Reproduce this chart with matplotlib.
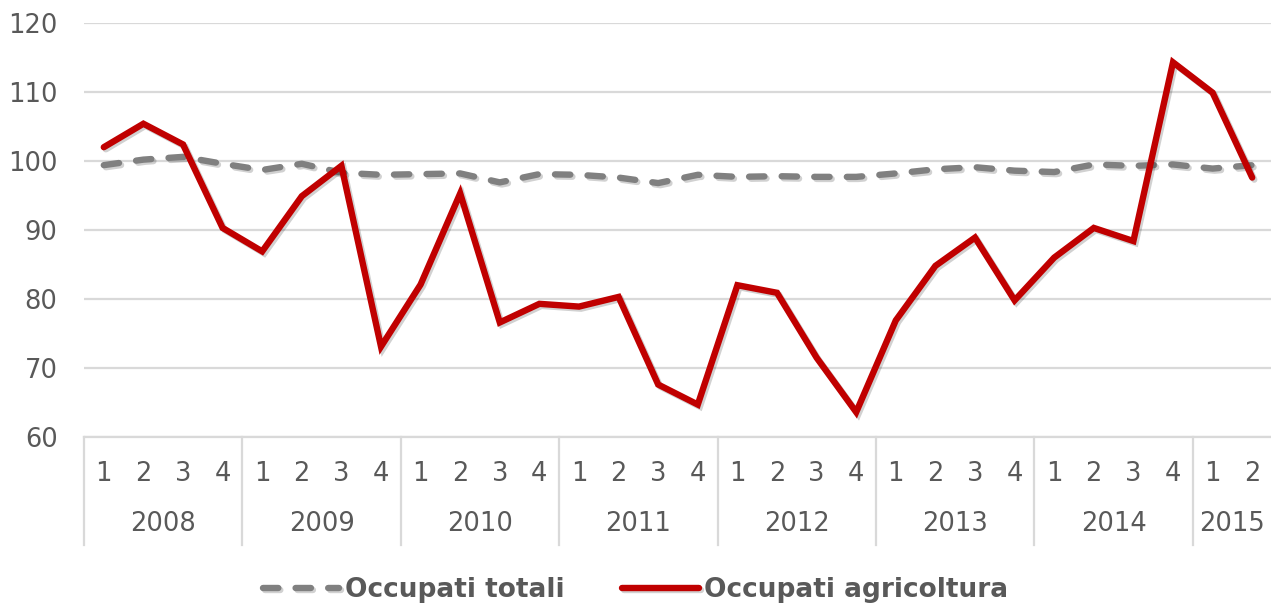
import numpy as np
import matplotlib
matplotlib.use("Agg")
import matplotlib.pyplot as plt
import matplotlib.patheffects as pe

# data (index, quarterly)
years = ["2008", "2009", "2010", "2011", "2012", "2013", "2014", "2015"]
quarters_per_year = [4, 4, 4, 4, 4, 4, 4, 2]
occupati_totali = [99.4, 100.2, 100.6, 99.6, 98.7, 99.6, 98.3, 98.0,
                   98.1, 98.2, 96.9, 98.1, 98.0, 97.6, 96.8, 98.0,
                   97.7, 97.8, 97.7, 97.7, 98.2, 98.8, 99.1, 98.6,
                   98.4, 99.5, 99.3, 99.5, 98.9, 99.4]
occupati_agricoltura = [102.0, 105.4, 102.4, 90.3, 86.9, 94.9, 99.3, 73.1,
                        82.1, 95.3, 76.6, 79.3, 78.9, 80.3, 67.6, 64.7,
                        82.0, 80.9, 71.5, 63.6, 76.9, 84.8, 88.9, 79.8,
                        86.0, 90.3, 88.4, 114.3, 109.9, 97.6]

TXT = "#595959"
GRID = "#d9d9d9"
FS = 18.5

plt.rcParams["font.family"] = ["DejaVu Sans"]

fig = plt.figure(figsize=(12.71, 6.04), dpi=100)
ax = fig.add_axes([84 / 1271, 167 / 604, 1188 / 1271, 414 / 604])

x = np.arange(len(occupati_totali))
shadow = [pe.SimpleLineShadow(offset=(1.5, -1.5), alpha=0.18, shadow_color="black"), pe.Normal()]

ax.plot(x, occupati_totali, color="#808080", lw=4.6, linestyle=(0, (2.4, 2.7)),
        dash_capstyle="round", solid_joinstyle="round", label="Occupati totali",
        path_effects=shadow, zorder=3)
ax.plot(x, occupati_agricoltura, color="#C00000", lw=4.6, solid_capstyle="round",
        solid_joinstyle="miter", label="Occupati agricoltura",
        path_effects=shadow, zorder=4)

ax.set_xlim(-0.5, len(x) - 0.5)
ax.set_ylim(60, 120)
ax.set_yticks(np.arange(60, 121, 10))
ax.yaxis.grid(True, color=GRID, lw=1.6)
ax.set_axisbelow(True)
for s in ["top", "right", "left"]:
    ax.spines[s].set_visible(False)
ax.spines["bottom"].set_color(GRID)
ax.spines["bottom"].set_linewidth(1.6)
ax.tick_params(axis="y", length=0, pad=19, labelsize=FS, labelcolor=TXT)
ax.set_xticks([])

# two-level category axis: quarters and years
trans = ax.get_xaxis_transform()
pos = -0.5
ax.plot([pos, pos], [0, -0.262], transform=trans, color=GRID, lw=1.6, clip_on=False)
for yr, nq in zip(years, quarters_per_year):
    for q in range(nq):
        ax.text(pos + 0.5 + q, -0.09, str(q + 1), transform=trans, ha="center",
                va="center", fontsize=FS, color=TXT)
    ax.text(pos + nq / 2, -0.21, yr, transform=trans, ha="center", va="center",
            fontsize=FS, color=TXT)
    pos += nq
    if pos < len(x) - 0.5:
        ax.plot([pos, pos], [0, -0.262], transform=trans, color=GRID, lw=1.6, clip_on=False)

leg = fig.legend(loc="center", bbox_to_anchor=(0.5, 14 / 604), ncol=2, frameon=False,
                 handlelength=2.9, handletextpad=0.2, columnspacing=2.2,
                 prop={"size": 19, "weight": "bold"})
for t in leg.get_texts():
    t.set_color(TXT)

fig.savefig("out.png", dpi=100)
